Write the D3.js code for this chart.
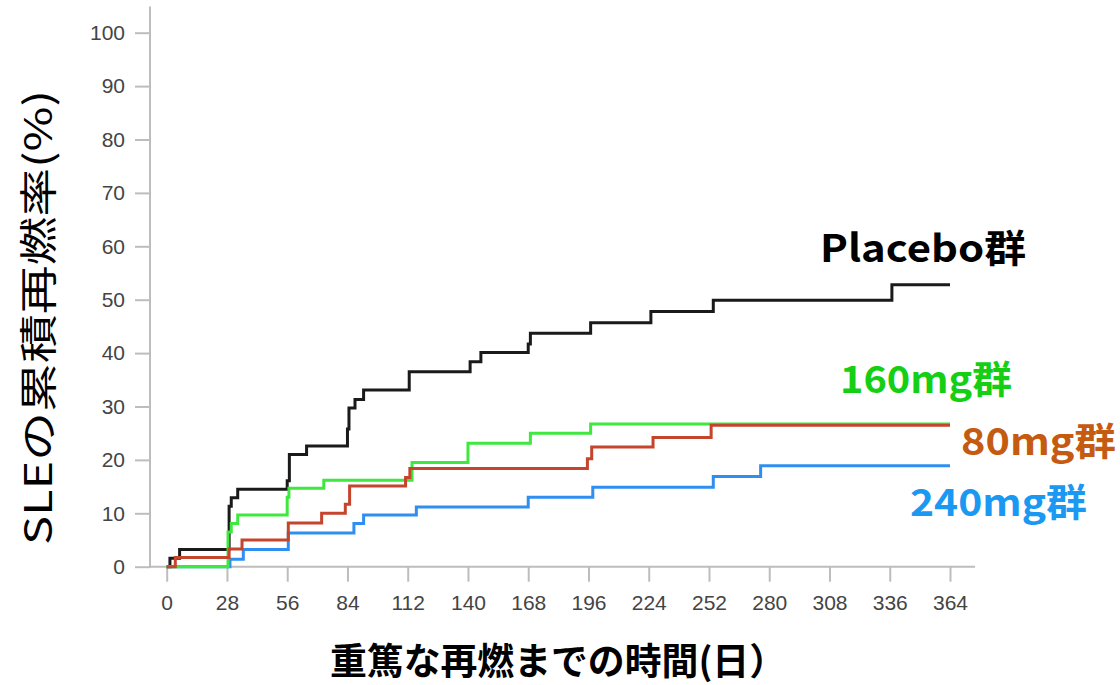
<!DOCTYPE html>
<html>
<head>
<meta charset="utf-8">
<script src="https://cdn.jsdelivr.net/npm/d3@7/dist/d3.min.js"></script>
<style>
  html, body { margin: 0; padding: 0; background: #fff; }
  svg { display: block; }
</style>
</head>
<body>
<svg id="chart" width="1120" height="685"></svg>
<script>
// Time axis (days) and cumulative flare rate (%) ticks
const xTicks = [0, 28, 56, 84, 112, 140, 168, 196, 224, 252, 280, 308, 336, 364];
const yTicks = [0, 10, 20, 30, 40, 50, 60, 70, 80, 90, 100];

// Kaplan-Meier style step data: day of each step and cumulative rate (%) after it
const placeboDays = [0, 1.5, 6, 29, 30, 33, 56, 57, 65, 84, 84.7, 87.5, 91.5, 112.7, 141, 146, 168, 169, 197, 225, 254, 337, 364];
const placeboRate = [0, 1.6, 3.2, 11.3, 12.9, 14.5, 16.1, 21.0, 22.6, 25.8, 29.7, 31.3, 33.1, 36.5, 38.4, 40.1, 41.7, 43.7, 45.7, 47.8, 49.9, 52.8, 52.8];

const mg160Days = [0, 28.5, 30, 33, 56, 56.8, 73, 114, 140, 169, 197, 364];
const mg160Rate = [0, 6.5, 8.1, 9.7, 13.0, 14.7, 16.2, 19.5, 23.1, 25.0, 26.7, 26.7];

const mg80Days = [0, 4, 29, 35, 56.5, 72, 83, 85, 111, 113, 195.5, 197.5, 226, 253, 364];
const mg80Rate = [0, 1.7, 3.3, 5.0, 8.2, 10.0, 11.7, 15.1, 16.7, 18.4, 20.2, 22.4, 24.2, 26.5, 26.5];

const mg240Days = [0, 29.4, 35.6, 56.5, 87, 91.5, 116, 168, 198, 254, 276, 364];
const mg240Rate = [0, 1.4, 3.2, 6.3, 8.1, 9.7, 11.2, 13.0, 14.9, 16.9, 18.9, 18.9];

const seriesNames = ["Placebo群", "160mg群", "80mg群", "240mg群"];
const lineColors = ["#1a1a1a", "#3ee83e", "#c4442c", "#2f8ff0"];
const labelColors = ["#000000", "#14cf14", "#c55a11", "#1a98f2"];

const xTitle = "重篤な再燃までの時間(日）";
const yTitle = "SLEの累積再燃率(%)";

const svg = d3.select("#chart");
const x = d3.scaleLinear().domain([0, 364]).range([166.7, 950]);
const y = d3.scaleLinear().domain([0, 100]).range([566.7, 32.7]);

const axisColor = "#bdbdbd";
const tickFont = "'Liberation Sans', Arial, sans-serif";
const jpFont = "'Noto Sans CJK JP', 'Noto Sans', sans-serif";

// Axes
const yAxis = d3.axisLeft(y).tickValues(yTicks).tickSize(15).tickPadding(10);
const gy = svg.append("g").attr("transform", "translate(150,0)").call(yAxis);
gy.select(".domain").remove();
gy.selectAll(".tick line").attr("stroke", axisColor).attr("stroke-width", 2);
gy.selectAll(".tick text").attr("font-family", tickFont).attr("font-size", 21).attr("fill", "#444");

const xAxis = d3.axisBottom(x).tickValues(xTicks).tickSize(15).tickPadding(13);
const gx = svg.append("g").attr("transform", `translate(0,${y(0)})`).call(xAxis);
gx.select(".domain").remove();
gx.selectAll(".tick line").attr("stroke", axisColor).attr("stroke-width", 2);
gx.selectAll(".tick text").attr("font-family", tickFont).attr("font-size", 21).attr("fill", "#444");

// Axis lines
svg.append("line")
  .attr("x1", 150).attr("x2", 150)
  .attr("y1", y(0) + 1).attr("y2", y(104.9))
  .attr("stroke", axisColor).attr("stroke-width", 2);
svg.append("line")
  .attr("x1", 150).attr("x2", x(375.6))
  .attr("y1", y(0)).attr("y2", y(0))
  .attr("stroke", axisColor).attr("stroke-width", 2);

// Step curves
const stepLine = d3.line()
  .x(d => x(d[0]))
  .y(d => y(d[1]))
  .curve(d3.curveStepAfter);

const series = [
  { days: placeboDays, rate: placeboRate, color: lineColors[0], w: 3 },
  { days: mg240Days, rate: mg240Rate, color: lineColors[3], w: 3 },
  { days: mg160Days, rate: mg160Rate, color: lineColors[1], w: 3 },
  { days: mg80Days, rate: mg80Rate, color: lineColors[2], w: 3 }
];

series.forEach(s => {
  svg.append("path")
    .datum(s.days.map((d, i) => [d, s.rate[i]]))
    .attr("d", stepLine)
    .attr("fill", "none")
    .attr("stroke", s.color)
    .attr("stroke-width", s.w)
    .attr("stroke-linejoin", "miter");
});

// Series labels
const labels = [
  { text: seriesNames[0], color: labelColors[0], x: 820, y: 262, len: 206 },
  { text: seriesNames[1], color: labelColors[1], x: 840, y: 393, len: 172 },
  { text: seriesNames[2], color: labelColors[2], x: 961, y: 455, len: 155 },
  { text: seriesNames[3], color: labelColors[3], x: 910, y: 516, len: 177 }
];
labels.forEach(l => {
  svg.append("text")
    .attr("x", l.x).attr("y", l.y)
    .attr("font-family", jpFont).attr("font-weight", 700)
    .attr("font-size", 38)
    .attr("textLength", l.len).attr("lengthAdjust", "spacingAndGlyphs")
    .attr("fill", l.color)
    .text(l.text);
});

// Axis titles
svg.append("text")
  .attr("x", 330).attr("y", 675)
  .attr("font-family", jpFont).attr("font-weight", 700)
  .attr("font-size", 37)
  .attr("textLength", 456).attr("lengthAdjust", "spacingAndGlyphs")
  .attr("fill", "#000")
  .text(xTitle);

svg.append("text")
  .attr("transform", "translate(52,545) rotate(-90)")
  .attr("font-family", jpFont).attr("font-weight", 400)
  .attr("font-size", 38)
  .attr("textLength", 455).attr("lengthAdjust", "spacingAndGlyphs")
  .attr("fill", "#000")
  .text(yTitle);
</script>
</body>
</html>
